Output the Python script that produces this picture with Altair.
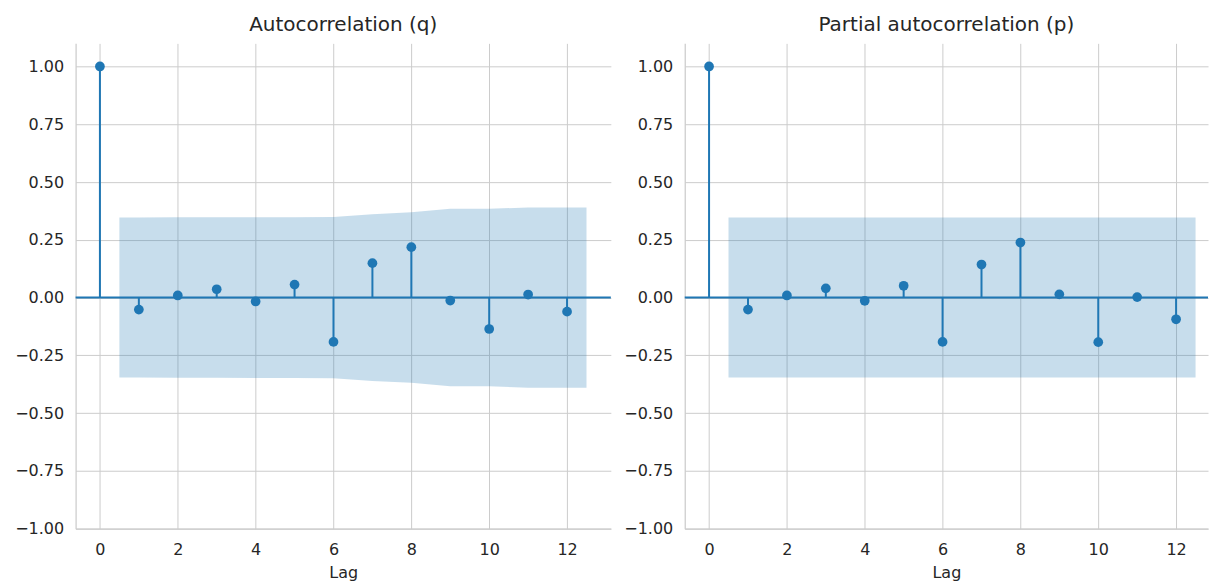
import altair as alt
import pandas as pd

# ---- data ----
lags = [0, 1, 2, 3, 4, 5, 6, 7, 8, 9, 10, 11, 12]
acf_vals = [1.0, -0.052, 0.009, 0.036, -0.017, 0.056, -0.192, 0.149, 0.218, -0.013, -0.136, 0.013, -0.061]
pacf_vals = [1.0, -0.052, 0.009, 0.040, -0.014, 0.051, -0.192, 0.143, 0.238, 0.014, -0.193, 0.002, -0.094]

band_lags = [0.5, 1, 2, 3, 4, 5, 6, 7, 8, 9, 10, 11, 12, 12.5]
acf_band_upper = [0.346, 0.346, 0.347, 0.347, 0.348, 0.348, 0.349, 0.361, 0.369, 0.384, 0.384, 0.390, 0.390, 0.390]
acf_band_lower = [-0.346, -0.346, -0.347, -0.347, -0.348, -0.348, -0.349, -0.361, -0.369, -0.384, -0.384, -0.390, -0.390, -0.390]
pacf_band_upper = [0.346, 0.346, 0.346, 0.346, 0.346, 0.346, 0.346, 0.346, 0.346, 0.346, 0.346, 0.346, 0.346, 0.346]
pacf_band_lower = [-0.346, -0.346, -0.346, -0.346, -0.346, -0.346, -0.346, -0.346, -0.346, -0.346, -0.346, -0.346, -0.346, -0.346]

y_ticks = [-1.0, -0.75, -0.5, -0.25, 0.0, 0.25, 0.5, 0.75, 1.0]
x_ticks = [0, 2, 4, 6, 8, 10, 12]

BLUE = "#1f77b4"


def panel(title, vals, upper, lower, x_domain, width):
    df = pd.DataFrame({"lag": lags, "value": vals, "base": [0.0] * len(lags)})
    band = pd.DataFrame({"lag": band_lags, "upper": upper, "lower": lower})
    zero = pd.DataFrame({"zero": [0.0]})

    xs = alt.Scale(domain=x_domain, nice=False, zero=False)
    ys = alt.Scale(domain=[-1.0, 1.1], nice=False, zero=False)
    xa = alt.Axis(values=x_ticks, title="Lag", titlePadding=7, labelPadding=12.5)
    ya = alt.Axis(values=y_ticks, title=None,
                  labelExpr="replace(format(datum.value, '.2f'), '-', '\u2212')")

    band_layer = alt.Chart(band).mark_area(color=BLUE, opacity=0.25).encode(
        x=alt.X("lag:Q", scale=xs, axis=xa),
        y=alt.Y("upper:Q", scale=ys, axis=ya),
        y2="lower:Q",
    )
    zero_layer = alt.Chart(zero).mark_rule(color=BLUE, strokeWidth=2).encode(
        y=alt.Y("zero:Q", scale=ys, axis=ya)
    )
    stems = alt.Chart(df).mark_rule(color=BLUE, strokeWidth=2).encode(
        x=alt.X("lag:Q", scale=xs, axis=xa),
        y=alt.Y("base:Q", scale=ys, axis=ya),
        y2="value:Q",
    )
    dots = alt.Chart(df).mark_circle(color=BLUE, size=95, opacity=1).encode(
        x=alt.X("lag:Q", scale=xs, axis=xa),
        y=alt.Y("value:Q", scale=ys, axis=ya),
    )
    return alt.layer(band_layer, zero_layer, stems, dots).properties(
        width=width, height=486,
        title=alt.TitleParams(title),
    )


left = panel("Autocorrelation (q)", acf_vals, acf_band_upper, acf_band_lower, [-0.625, 13.125], 536)
right = panel("Partial autocorrelation (p)", pacf_vals, pacf_band_upper, pacf_band_lower, [-0.625, 12.82], 524)

chart = alt.hconcat(left, right, spacing=74, bounds="flush").properties(
    padding={"left": 13.7, "top": 14, "right": 0, "bottom": 0}
).configure_axis(
    gridColor="#cccccc", gridWidth=1,
    domainColor="#cccccc", domainWidth=1.25,
    ticks=False, tickSize=0,
    labelFont="DejaVu Sans", labelFontSize=16, labelColor="#262626", labelPadding=12,
    titleFont="DejaVu Sans", titleFontSize=16, titleColor="#262626", titleFontWeight="normal",
).configure_view(
    strokeOpacity=0
).configure_title(
    font="DejaVu Sans", fontSize=20, fontWeight="normal", color="#262626",
    anchor="middle", baseline="alphabetic", offset=8.5,
)

chart.save("out.html", embed_options={"renderer": "svg", "actions": False})
